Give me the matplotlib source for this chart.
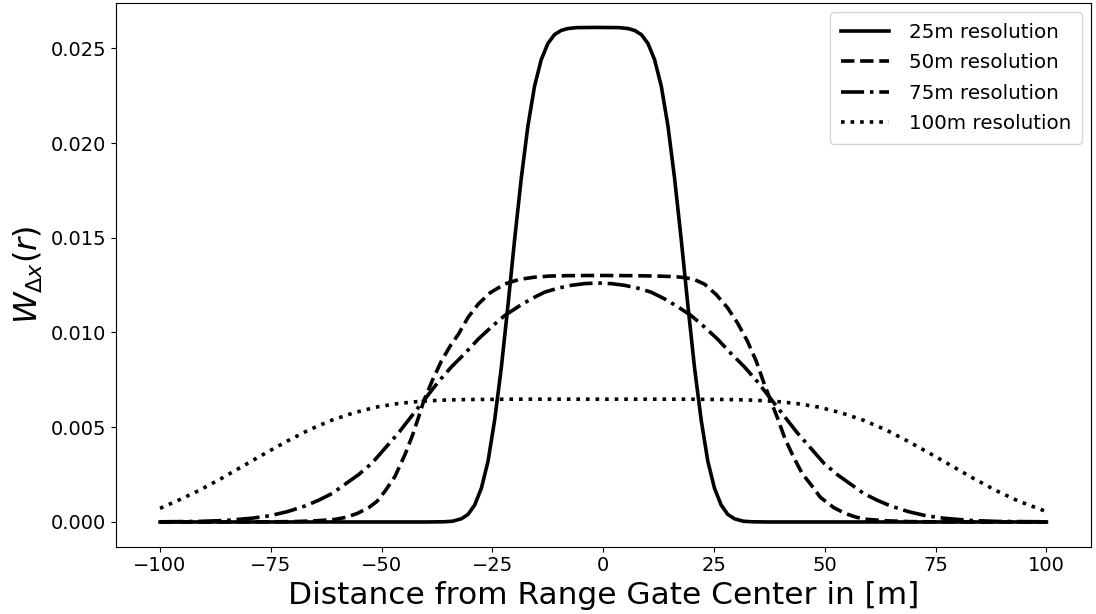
import matplotlib
matplotlib.use("Agg")
import matplotlib.pyplot as plt

# ---- data ----
x_25 = [-100, -60, -40, -36, -34, -32, -30.5, -29, -27.5, -26, -24.5, -23, -21.5, -20, -18.5,
        -17, -15.5, -14, -12.5, -11, -9.5, -8, -6, -1.2,
        3.6, 5.6, 7.1, 8.6, 10.1, 11.6, 13.1, 14.6, 16.1, 17.6, 19.1, 20.6, 22.1, 23.6, 25.1,
        26.6, 28.1, 29.6, 31.6, 33.6, 37, 60, 100]
y_25 = [0, 0, 0, 0.00001, 0.00004, 0.00017, 0.0004, 0.0009, 0.00178, 0.0032, 0.00538, 0.00814,
        0.01143, 0.0149, 0.01813, 0.0209, 0.0230, 0.02439, 0.02525, 0.02572, 0.02594, 0.02604,
        0.02609, 0.0261,
        0.02609, 0.02604, 0.02594, 0.02572, 0.02525, 0.02439, 0.0230, 0.0209, 0.01813, 0.0149,
        0.01143, 0.00814, 0.00538, 0.0032, 0.00178, 0.0009, 0.0004, 0.00017, 0.00004, 0.00001,
        0, 0, 0]

x_50 = [-100, -85, -75, -70, -65, -62.5, -60.4, -58, -55.5, -52.9, -51, -49.2, -47, -44.7, -43,
        -41.7, -40.5, -38.5, -36.5, -34.5, -32.7, -30.5, -28.2, -25.5, -22.2, -19, -15.5, -12,
        -8, -1, 6, 12, 16, 18.3, 20.5, 22.8, 25.5, 28.0, 30.3, 32.5, 34.5, 36.3, 37.8, 39.3,
        41, 43, 44.9, 46.8, 49, 52, 54.6, 57.1, 59.5, 61.6, 64.1, 69.1, 74.1, 85, 100]
y_50 = [0, 0, 0.00001, 0.00002, 0.00006, 0.0001, 0.00014, 0.00025, 0.00045, 0.00076, 0.0011,
        0.00164, 0.0024, 0.00358, 0.0046, 0.00551, 0.00639, 0.0075, 0.0085, 0.0093, 0.0099,
        0.0108, 0.0115, 0.0121, 0.01256, 0.0128, 0.01292, 0.01298, 0.0130, 0.01301, 0.0130,
        0.01298, 0.01295, 0.0129, 0.0128, 0.01256, 0.0120, 0.01132, 0.0105, 0.00956, 0.0085,
        0.0073, 0.00639, 0.0055, 0.0044, 0.0034, 0.00255, 0.00199, 0.0013, 0.00076, 0.00045,
        0.00025, 0.00014, 0.0001, 0.00006, 0.00002, 0.00001, 0, 0]

x_75 = [-100, -91.2, -85.2, -79.2, -75.2, -71.2, -67.2, -64.2, -61.2, -58.2, -55.2, -52.2, -49.2,
        -46.2, -43.2, -40.2, -37.2, -34.2, -31.2, -28.2, -25.2, -22.2, -19.2, -16.2, -13.2,
        -10.2, -7.2, -4.2, -1.2, 1.8, 4.8, 7.8, 10.8, 13.8, 16.8, 19.8, 22.8, 25.8, 28.8, 31.8,
        34.8, 37.8, 40.8, 43.8, 46.8, 49.8, 52.8, 55.8, 58.8, 61.8, 64.8, 68.8, 72.8, 76.8,
        82.8, 88.8, 100]
y_75 = [0.00001, 0.00003, 0.00008, 0.0002, 0.00033, 0.00055, 0.00085, 0.00115, 0.0015, 0.002,
        0.0025, 0.0031, 0.0039, 0.0047, 0.0056, 0.0065, 0.0074, 0.0082, 0.0089, 0.00965, 0.0103,
        0.0109, 0.01136, 0.01178, 0.01213, 0.01234, 0.01249, 0.01258, 0.01261, 0.01258,
        0.01249, 0.01234, 0.01213, 0.01178, 0.01136, 0.0109, 0.0103, 0.00965, 0.0089, 0.0082,
        0.0074, 0.0065, 0.0056, 0.0047, 0.0039, 0.0031, 0.0025, 0.002, 0.0015, 0.00115,
        0.00085, 0.00055, 0.00033, 0.0002, 0.00008, 0.00003, 0.00001]

x_100 = [-100, -96.3, -91.3, -86.3, -81.3, -76.3, -71.3, -66.3, -61.3, -56.3, -51.3, -46.3,
         -41.3, -36.3, -31.3, -21.3, -1.3, 18.7, 28.7, 33.7, 38.7, 43.7, 48.7, 53.7, 58.7,
         63.7, 68.7, 73.7, 78.7, 83.7, 88.7, 93.7, 100]
y_100 = [0.00072, 0.0011, 0.00165, 0.00228, 0.00295, 0.00362, 0.00427, 0.00487, 0.00537,
         0.00576, 0.00606, 0.00625, 0.00637, 0.00643, 0.00646, 0.00648, 0.00648, 0.00648,
         0.00646, 0.00643, 0.00637, 0.00625, 0.00606, 0.00576, 0.00537, 0.00487, 0.00427,
         0.00362, 0.00295, 0.00228, 0.00165, 0.0011, 0.00055]

labels = ["25m resolution", "50m resolution", "75m resolution", "100m resolution"]
x_ticks = [-100, -75, -50, -25, 0, 25, 50, 75, 100]
y_ticks = [0.000, 0.005, 0.010, 0.015, 0.020, 0.025]

# ---- figure ----
fig = plt.figure(figsize=(10.96, 6.14), dpi=100)
ax = fig.add_axes([0.1056, 0.1096, 0.8896, 0.886])

lw = 2.6
ax.plot(x_25, y_25, color="black", linestyle="-", linewidth=lw, label=labels[0])
ax.plot(x_50, y_50, color="black", linestyle="--", linewidth=lw, label=labels[1])
ax.plot(x_75, y_75, color="black", linestyle="-.", linewidth=lw, label=labels[2])
ax.plot(x_100, y_100, color="black", linestyle=":", linewidth=lw, label=labels[3])

ax.set_xticks(x_ticks)
ax.set_yticks(y_ticks)
ax.set_yticklabels([f"{v:.3f}" for v in y_ticks])
ax.tick_params(labelsize=14)
ax.set_xlabel("Distance from Range Gate Center in [m]", fontsize=22.5)
ax.set_ylabel(r"$W_{\Delta x}(r)$", fontsize=23)
ax.legend(loc="upper right", fontsize=14.3, handlelength=2.4, labelspacing=0.58,
          borderpad=0.55, handletextpad=1.0, borderaxespad=0.45)

fig.savefig("out.png", dpi=100)
